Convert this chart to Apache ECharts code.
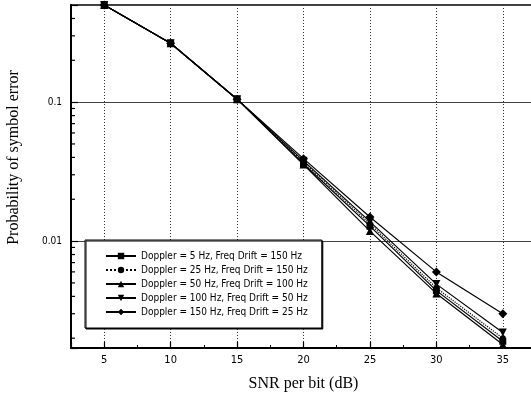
<!DOCTYPE html>
<html>
<head>
<meta charset="UTF-8">
<title>SER vs SNR</title>
<script src="https://cdn.jsdelivr.net/npm/echarts@6/dist/echarts.min.js"></script>
<style>
html,body{margin:0;padding:0;background:#fff;}
#main{width:531px;height:401px;}
</style>
</head>
<body>
<div id="main"></div>
<script type="text/javascript">
// data
var snr = [5, 10, 15, 20, 25, 30, 35];
var names = [
	'Doppler = 5 Hz, Freq Drift = 150 Hz',
	'Doppler = 25 Hz, Freq Drift = 150 Hz',
	'Doppler = 50 Hz, Freq Drift = 100 Hz',
	'Doppler = 100 Hz, Freq Drift = 50 Hz',
	'Doppler = 150 Hz, Freq Drift = 25 Hz'
];
var d5   = [0.5, 0.265, 0.105, 0.0360, 0.0128, 0.0044, 0.0019];
var d25  = [0.5, 0.265, 0.105, 0.0370, 0.0133, 0.0046, 0.0020];
var d50  = [0.5, 0.265, 0.105, 0.0355, 0.0118, 0.0042, 0.0018];
var d100 = [0.5, 0.265, 0.105, 0.0378, 0.0138, 0.0049, 0.0022];
var d150 = [0.5, 0.265, 0.105, 0.0392, 0.0149, 0.0060, 0.0030];
var yLabels = [0.01, 0.1];
var yMinor = [0.002,0.003,0.004,0.005,0.006,0.007,0.008,0.009,
	0.02,0.03,0.04,0.05,0.06,0.07,0.08,0.09,0.2,0.3,0.4];

var narrow = '"Liberation Sans Narrow", "DejaVu Sans Condensed", "Liberation Sans", sans-serif';
var serif = '"Liberation Serif", "DejaVu Serif", serif';

function pairs(arr) {
	var out = [];
	for (var i = 0; i < snr.length; i++) out.push([snr[i], arr[i]]);
	return out;
}

function mkSeries(name, arr, symbol, size, rotate, dashed) {
	return {
		name: name,
		type: 'line',
		data: pairs(arr),
		symbol: symbol,
		symbolSize: size,
		symbolRotate: rotate,
		itemStyle: { color: '#000' },
		lineStyle: { color: '#000', width: 1.2, type: dashed ? 'dotted' : 'solid' },
		emphasis: { disabled: true },
		animation: false
	};
}

var chart = echarts.init(document.getElementById('main'));
var option = {
	animation: false,
	grid: {
		left: 71, top: 5, right: -5, bottom: 53,
		outerBoundsMode: 'none',
		show: true, borderColor: '#000', borderWidth: 1.5
	},
	legend: {
		orient: 'vertical',
		left: 85, top: 240,
		padding: [11, 14, 11, 20],
		itemGap: 4,
		itemWidth: 30, itemHeight: 8,
		backgroundColor: '#fff',
		borderColor: '#000', borderWidth: 1,
		shadowColor: '#000', shadowOffsetX: 1, shadowOffsetY: 1, shadowBlur: 0,
		textStyle: { fontFamily: narrow, fontSize: 10, color: '#000' },
		data: names
	},
	xAxis: {
		type: 'value',
		min: 2.5, max: 37.5,
		splitNumber: 7,
		name: 'SNR per bit (dB)',
		nameLocation: 'middle',
		nameGap: 28,
		nameTextStyle: { fontFamily: serif, fontSize: 16, color: '#000' },
		axisLine: { lineStyle: { color: '#000', width: 2 } },
		axisTick: { inside: true, length: 6, lineStyle: { color: '#000', width: 1.2 } },
		minorTick: { show: true, splitNumber: 2, length: 3, lineStyle: { color: '#000' } },
		axisLabel: {
			margin: 7, fontFamily: narrow, fontSize: 11, color: '#000',
			formatter: function (v) { return v % 5 === 0 ? String(v) : ''; }
		},
		splitLine: { show: true, lineStyle: { color: '#333', width: 1, type: [1, 2] } }
	},
	yAxis: {
		type: 'log',
		min: 0.0017, max: 0.5,
		name: 'Probability of symbol error',
		nameLocation: 'middle',
		nameRotate: 90,
		nameGap: 49,
		nameTextStyle: { fontFamily: serif, fontSize: 16, color: '#000', padding: [0, 0, 0, 38] },
		axisLine: { lineStyle: { color: '#000', width: 2 } },
		axisTick: { inside: true, length: 7, lineStyle: { color: '#000', width: 1.2 } },
		axisLabel: {
			margin: 9, fontFamily: narrow, fontSize: 10, color: '#000',
			formatter: function (v) {
				for (var i = 0; i < yLabels.length; i++) {
					if (Math.abs(v - yLabels[i]) < yLabels[i] * 1e-6) return String(yLabels[i]);
				}
				return '';
			}
		},
		splitLine: { show: true, lineStyle: { color: '#444', width: 1 } }
	},
	series: [
		mkSeries(names[0], d5, 'rect', 7, 0, false),
		mkSeries(names[1], d25, 'circle', 6, 0, true),
		mkSeries(names[2], d50, 'triangle', 8, 0, false),
		mkSeries(names[3], d100, 'triangle', 8, 180, false),
		mkSeries(names[4], d150, 'diamond', 9, 0, false)
	]
};
chart.setOption(option);

// minor log ticks on the left axis, placed through the axis scale
var gl = chart.convertToPixel({ xAxisIndex: 0 }, 2.5);
var ticks = [];
for (var i = 0; i < yMinor.length; i++) {
	var py = chart.convertToPixel({ yAxisIndex: 0 }, yMinor[i]);
	ticks.push({
		type: 'line',
		shape: { x1: gl, y1: py, x2: gl + 4, y2: py },
		style: { stroke: '#000', lineWidth: 1.2 },
		z: 5
	});
}
chart.setOption({ graphic: ticks });
</script>
</body>
</html>
